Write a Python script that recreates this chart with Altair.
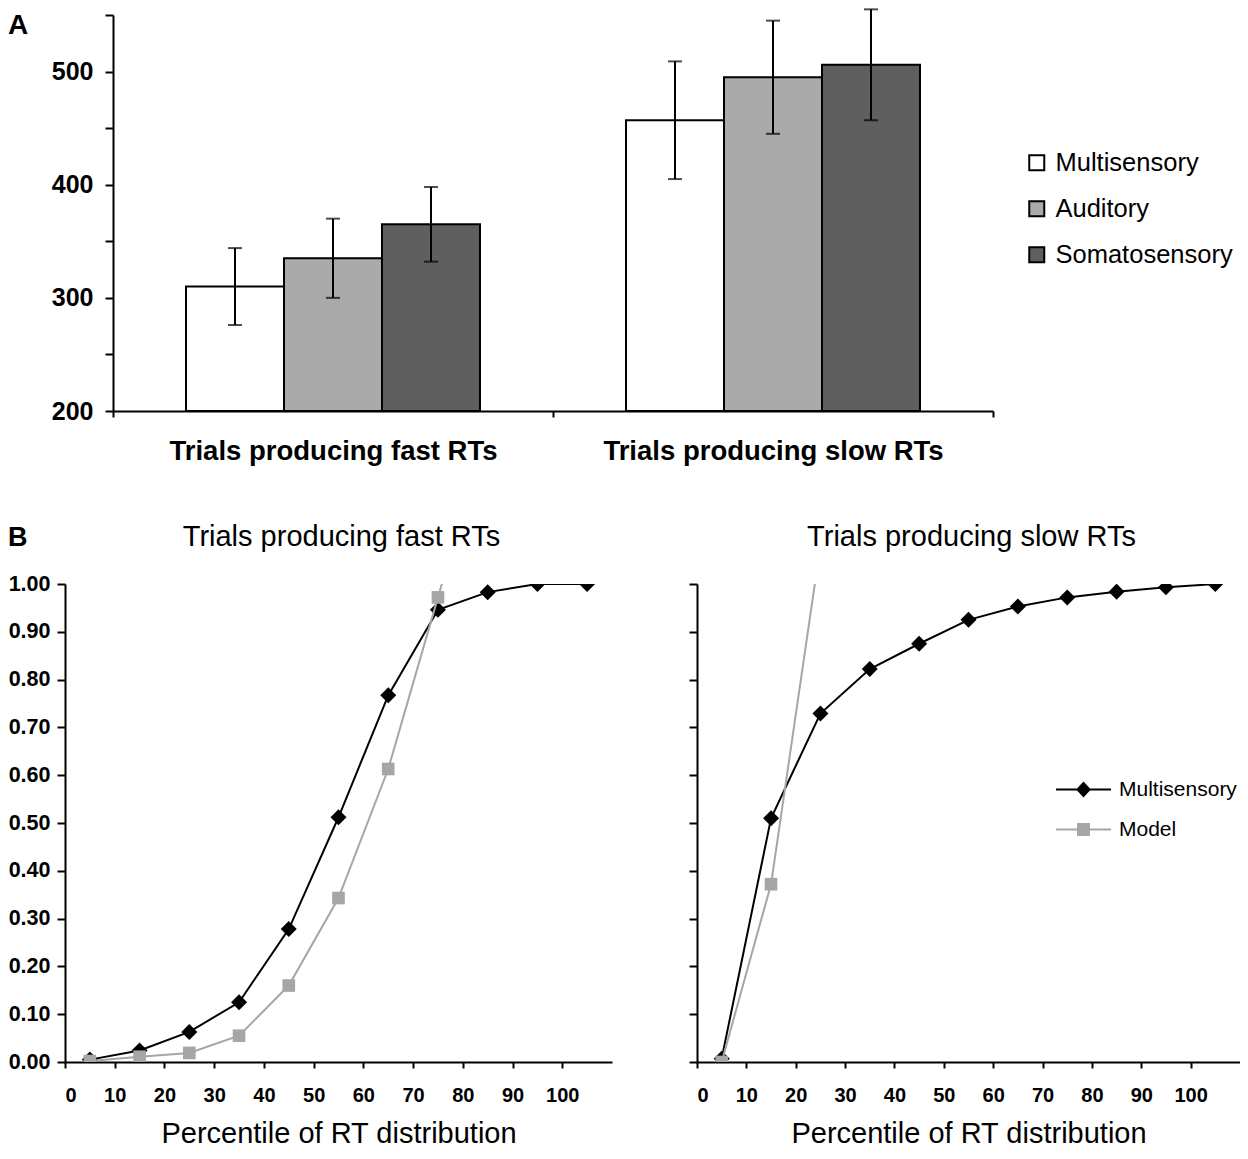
import altair as alt
import pandas as pd

FONT = "Liberation Sans"

# ---------------- Panel A data ----------------
groups = ["Trials producing fast RTs", "Trials producing slow RTs"]
conditions = ["Multisensory", "Auditory", "Somatosensory"]
cond_colors = ["#ffffff", "#aaaaaa", "#5f5f5f"]
fast_means = [310, 335, 365]
fast_err = [34, 35, 33]
slow_means = [457, 495, 506]
slow_err = [52, 50, 49]

# ---------------- Panel B data ----------------
percentiles = [5, 15, 25, 35, 45, 55, 65, 75, 85, 95, 105]
series = ["Multisensory", "Model"]
series_colors = ["#000000", "#a6a6a6"]
fast_multi = [0.005, 0.024, 0.063, 0.125, 0.278, 0.512, 0.767, 0.946, 0.983, 1.0, 1.0]
fast_model = [0.002, 0.011, 0.019, 0.055, 0.160, 0.343, 0.613, 0.972, 1.33]
slow_multi = [0.007, 0.510, 0.729, 0.822, 0.875, 0.925, 0.953, 0.972, 0.984, 0.993, 1.0]
slow_model = [0.0, 0.372, 1.08]
panel_titles = ["Trials producing fast RTs", "Trials producing slow RTs"]

# ---------------- build tables ----------------
rows = []
for g, means, errs in [(groups[0], fast_means, fast_err), (groups[1], slow_means, slow_err)]:
    for c, m, e in zip(conditions, means, errs):
        rows.append({"group": g, "condition": c, "mean": m, "lo": m - e, "hi": m + e})
df_a = pd.DataFrame(rows)


def line_df(multi, model):
    r = []
    for p, v in zip(percentiles, multi):
        r.append({"pct": p, "value": v, "series": "Multisensory"})
    for p, v in zip(percentiles, model):
        r.append({"pct": p, "value": v, "series": "Model"})
    return pd.DataFrame(r)


df_fast = line_df(fast_multi, fast_model)
df_slow = line_df(slow_multi, slow_model)

# ---------------- Panel A ----------------
ax_common = dict(domainColor="black", domainWidth=2, tickColor="black", tickWidth=2,
                 labelColor="black", grid=False)
A_SHIFT = 48  # panel A axis sits further right than panel B axis

x_a = alt.X("group:N", sort=groups,
            scale=alt.Scale(paddingInner=0, paddingOuter=0, range=[A_SHIFT, A_SHIFT + 880]),
            axis=alt.Axis(title=None, labelAngle=0, labelFontSize=27.5, labelFontWeight="bold",
                          labelLimit=600, tickBand="extent", tickSize=6, labelPadding=20,
                          **ax_common))
xo_a = alt.XOffset("condition:N", sort=conditions,
                   scale=alt.Scale(domain=conditions, paddingInner=0, paddingOuter=0.745))
y_scale_a = alt.Scale(domain=[200, 550], nice=False, zero=False)
y_a = alt.Y("mean:Q", scale=y_scale_a,
            axis=alt.Axis(title=None, values=list(range(200, 551, 50)), offset=-A_SHIFT,
                          labelExpr="datum.value % 100 === 0 ? datum.label : ''",
                          labelFontSize=25, labelFontWeight="bold", tickSize=8, labelPadding=12,
                          **ax_common))

base_a = alt.Chart(df_a)
bars = base_a.mark_bar(stroke="black", strokeWidth=2).encode(
    x=x_a, xOffset=xo_a, y=y_a, y2=alt.datum(200),
    color=alt.Color("condition:N", sort=conditions,
                    scale=alt.Scale(domain=conditions, range=cond_colors),
                    legend=alt.Legend(title=None, orient="none", legendX=959, legendY=135,
                                      labelFontSize=25.5, labelColor="black", labelLimit=400,
                                      symbolType="square", symbolSize=225,
                                      symbolStrokeColor="black", symbolStrokeWidth=2,
                                      labelOffset=6, rowPadding=19, padding=0)),
)
err = base_a.mark_rule(color="black", strokeWidth=2).encode(
    x=x_a, xOffset=xo_a, y=alt.Y("lo:Q", scale=y_scale_a), y2="hi:Q")
cap_hi = base_a.mark_tick(color="black", thickness=2, size=14).encode(
    x=x_a, xOffset=xo_a, y=alt.Y("hi:Q", scale=y_scale_a))
cap_lo = base_a.mark_tick(color="black", thickness=2, size=14).encode(
    x=x_a, xOffset=xo_a, y=alt.Y("lo:Q", scale=y_scale_a))
letter_a = alt.Chart(pd.DataFrame({"t": ["A"]})).mark_text(
    fontSize=28, fontWeight="bold", align="left", baseline="top", color="black").encode(
    text="t:N", x=alt.value(-57), y=alt.value(-3))

panel_a = alt.layer(bars, err, cap_hi, cap_lo, letter_a).properties(width=A_SHIFT + 880, height=396)

# ---------------- Panel B ----------------
diamond_leg = "M-1,0H1M0,-0.24L0.22,0L0,0.24L-0.22,0Z"
square_leg = "M-1,0H1M-0.2,-0.2H0.2V0.2H-0.2Z"


def line_panel(df, title, left, show_legend, width):
    x = alt.X("pct:Q", scale=alt.Scale(domain=[0, 110], nice=False),
              axis=alt.Axis(values=list(range(0, 101, 10)), title="Percentile of RT distribution",
                            titleFontSize=29, titleFontWeight="normal", titleColor="black",
                            titlePadding=14, labelFontSize=20, labelFontWeight="bold",
                            tickSize=6, labelPadding=17, **ax_common))
    if left:
        yax = alt.Axis(title=None, values=[round(i * 0.1, 1) for i in range(11)], format=".2f",
                       labelFontSize=21.5, labelFontWeight="bold", tickSize=8, labelPadding=7,
                       minExtent=57, maxExtent=57, **ax_common)
    else:
        yax = alt.Axis(title=None, values=[round(i * 0.1, 1) for i in range(11)], labels=False,
                       tickSize=8, **ax_common)
    y = alt.Y("value:Q", scale=alt.Scale(domain=[0, 1], nice=False), axis=yax)
    base = alt.Chart(df)
    line_m = base.transform_filter(alt.datum.series == "Multisensory").mark_line(
        strokeWidth=2, clip=True, color="black").encode(x=x, y=y)
    pts_m = base.transform_filter(alt.datum.series == "Multisensory").mark_point(
        shape="diamond", filled=True, size=256, opacity=1, color="black", clip=True).encode(x=x, y=y)
    line_g = base.transform_filter(alt.datum.series == "Model").mark_line(
        strokeWidth=2, clip=True, color="#a6a6a6").encode(x=x, y=y)
    pts_g = base.transform_filter(alt.datum.series == "Model").mark_point(
        shape="square", filled=True, size=160, opacity=1, color="#a6a6a6", clip=True).encode(x=x, y=y)
    title_txt = alt.Chart(pd.DataFrame({"t": [title]})).mark_text(
        fontSize=29, align="center", baseline="alphabetic", color="black").encode(
        text="t:N", x=alt.value(width / 2 + 3), y=alt.value(-38))
    layers = [line_m, pts_m, line_g, pts_g, title_txt]
    if show_legend:
        leg = alt.Legend(title=None, orient="none", legendX=358, legendY=177, labelFontSize=21,
                         labelColor="black", labelLimit=400, symbolSize=3025, symbolStrokeWidth=2,
                         symbolOpacity=1, labelOffset=7, rowPadding=-1, padding=0)
        legend_layer = base.transform_filter("false").mark_point(
            filled=True, size=3025, opacity=1, strokeWidth=2).encode(
            x=x, y=y,
            fill=alt.Fill("series:N", scale=alt.Scale(domain=series, range=series_colors), legend=leg),
            stroke=alt.Stroke("series:N", scale=alt.Scale(domain=series, range=series_colors), legend=leg),
            shape=alt.Shape("series:N", scale=alt.Scale(domain=series, range=[diamond_leg, square_leg]),
                            legend=leg),
        )
        layers.append(legend_layer)
    if left:
        letter_b = alt.Chart(pd.DataFrame({"t": ["B"]})).mark_text(
            fontSize=27, fontWeight="bold", align="left", baseline="top", color="black").encode(
            text="t:N", x=alt.value(-57), y=alt.value(-59))
        layers.append(letter_b)
    return alt.layer(*layers).properties(width=width, height=478)


indep = dict(color="independent", fill="independent", stroke="independent", shape="independent")

panel_b = alt.hconcat(
    line_panel(df_fast, panel_titles[0], True, False, 547),
    line_panel(df_slow, panel_titles[1], False, True, 543),
    spacing=76,
).resolve_scale(**indep).resolve_legend(**indep)

chart = alt.vconcat(panel_a, panel_b, spacing=58).resolve_scale(
    **indep).resolve_legend(**indep).properties(padding=0).configure(
    font=FONT, background="white").configure_view(stroke=None)

chart.save("out.html", embed_options={"renderer": "svg", "actions": False})
